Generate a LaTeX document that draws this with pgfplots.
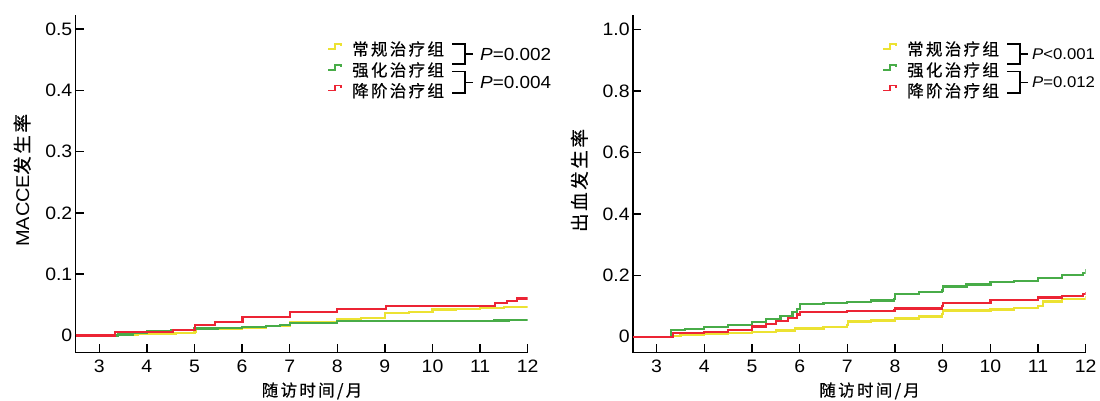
\documentclass[border=0pt]{standalone}
\usepackage{pgfplots}
\pgfplotsset{compat=1.18}
\usepackage{fontspec}
\setmainfont{Liberation Sans}[FakeStretch=1.08]
\newfontfamily\cjk{Noto Sans CJK SC}[LetterSpace=14, FakeBold=0.5]
\definecolor{cY}{RGB}{236,226,50}
\definecolor{cG}{RGB}{72,172,72}
\definecolor{cR}{RGB}{236,36,52}
\pgfplotsset{myax/.style={
  scale only axis, anchor=south west, height=337.7pt,
  axis lines=left, axis line style={-,line width=1.5pt},
  tick align=inside, major tick length=8.5pt,
  tick style={line width=1.5pt,black},
  xmin=2.5, xmax=12, xtick={3,...,12},
  /pgf/number format/assume math mode=true,
  tick label style={font=\fontsize{18}{20}\selectfont},
  xticklabel style={yshift=-4pt},
  yticklabel style={inner xsep=3pt},
  every axis plot/.append style={const plot, line width=2.3pt, no marks},
  xlabel style={at={(axis description cs:0.523,-0.113)}, anchor=center, font=\fontsize{16.5}{18}\selectfont\cjk},
  ylabel style={at={(axis description cs:-0.118,0.51)}, anchor=center, font=\fontsize{18.5}{20}\selectfont},
}}
\newcommand{\leg}[5]{%
\begin{scope}[xshift=#1]
 \foreach \c/\t/\y in {cY/常规治疗组/352, cG/强化治疗组/331, cR/降阶治疗组/310.3} {
   \draw[\c, line width=1.6pt] (328pt,\y pt)--(335pt,\y pt)--(335pt,\y pt+5pt)--(341pt,\y pt+5pt)--(341pt,\y pt+2.5pt);
   \node[anchor=west, inner sep=0pt, font=\fontsize{16.5}{18}\selectfont\cjk] at (352pt,\y pt) {\t};
 }
 \draw[line width=1.4pt] (452pt,357pt)--(465pt,357pt)--(465pt,337pt)--(452pt,337pt);
 \draw[line width=1.4pt] (465pt,347pt)--(473pt,347pt);
 \node[anchor=west, inner sep=0pt, font=\fontsize{#4}{20}\selectfont] at (#5,347pt) {\textit{P}#2};
 \draw[line width=1.4pt] (452pt,329.3pt)--(465pt,329.3pt)--(465pt,308pt)--(452pt,308pt);
 \draw[line width=1.4pt] (465pt,318.5pt)--(473pt,318.5pt);
 \node[anchor=west, inner sep=0pt, font=\fontsize{#4}{20}\selectfont] at (#5,318.5pt) {\textit{P}#3};
\end{scope}}
\begin{document}
\begin{tikzpicture}
\useasboundingbox (0,0) rectangle (1100pt,401pt);
\begin{axis}[myax, at={(75.5pt,48.3pt)}, width=452.2pt,
  ymin=-0.028, ymax=0.523, ytick={0,0.1,0.2,0.3,0.4,0.5},
  yticklabels={0,0.1,0.2,0.3,0.4,0.5},
  xlabel={随访时间/月}, ylabel={MACCE{\cjk 发生率}}]
\addplot[cY] coordinates {(2.5,0)(3.4,0.001)(3.8,0.002)(4.2,0.003)(4.6,0.004)(5.0,0.0054)(5.02,0.0109)(6.0,0.0125)(6.5,0.0152)(7.0,0.0218)(7.5,0.0225)(8.0,0.0272)(8.5,0.029)(9.0,0.037)(9.5,0.038)(10.0,0.0424)(10.5,0.0435)(11.0,0.0445)(11.5,0.046)(12,0.047)};
\addplot[cG] coordinates {(2.5,0)(3.4,0.0016)(3.7,0.004)(4.0,0.007)(4.5,0.009)(5.0,0.0114)(5.5,0.0125)(6.0,0.0142)(6.5,0.0155)(6.8,0.017)(7.0,0.02)(7.5,0.021)(8.0,0.0234)(9.0,0.024)(11.3,0.0245)(11.6,0.025)(12,0.025)};
\addplot[cR] coordinates {(2.5,0)(3.33,0.006)(4.55,0.0093)(5.01,0.0168)(5.43,0.0224)(6.01,0.0305)(7.0,0.0387)(8.0,0.0436)(9.02,0.048)(11.31,0.0527)(11.56,0.0566)(11.77,0.0604)(12,0.0604)};
\end{axis}
\begin{axis}[myax, at={(632.8pt,48.3pt)}, width=452.9pt,
  ymin=-0.052, ymax=1.047, ytick={0,0.2,0.4,0.6,0.8,1.0},
  yticklabels={0,0.2,0.4,0.6,0.8,1.0},
  xlabel={随访时间/月}, ylabel={\cjk 出血发生率}]
\addplot[cY] coordinates {(2.5,0)(3.3,0.003)(3.5,0.006)(4.0,0.01)(4.5,0.013)(5.0,0.016)(5.5,0.02)(5.9,0.027)(6.5,0.032)(7.0,0.037)(7.02,0.05)(7.5,0.053)(8.0,0.059)(8.5,0.066)(8.98,0.073)(9.0,0.085)(10,0.089)(10.5,0.093)(11.0,0.1)(11.1,0.115)(11.5,0.122)(12,0.132)};
\addplot[cG] coordinates {(2.5,0)(3.28,0)(3.3,0.022)(3.6,0.025)(4.0,0.031)(4.5,0.038)(5.0,0.049)(5.3,0.058)(5.6,0.068)(5.85,0.08)(5.95,0.09)(6.0,0.107)(6.5,0.11)(7.0,0.114)(7.5,0.118)(7.98,0.122)(8.0,0.138)(8.5,0.145)(8.98,0.15)(9.0,0.163)(9.5,0.17)(10.0,0.178)(10.5,0.182)(11.0,0.19)(11.5,0.2)(11.95,0.208)(12,0.222)};
\addplot[cR] coordinates {(2.5,0)(3.28,0)(3.35,0.011)(4.0,0.016)(4.5,0.022)(5.0,0.033)(5.3,0.042)(5.5,0.052)(5.75,0.062)(5.95,0.072)(6.0,0.081)(7.0,0.083)(7.98,0.085)(8.0,0.092)(8.98,0.1)(9.0,0.11)(10.0,0.119)(11.0,0.128)(11.5,0.133)(11.95,0.138)(12,0.147)};
\end{axis}
\leg{0pt}{=0.002}{=0.004}{17.5}{480pt}
\leg{555pt}{<0.001}{=0.012}{15.5}{477pt}
\end{tikzpicture}
\end{document}
